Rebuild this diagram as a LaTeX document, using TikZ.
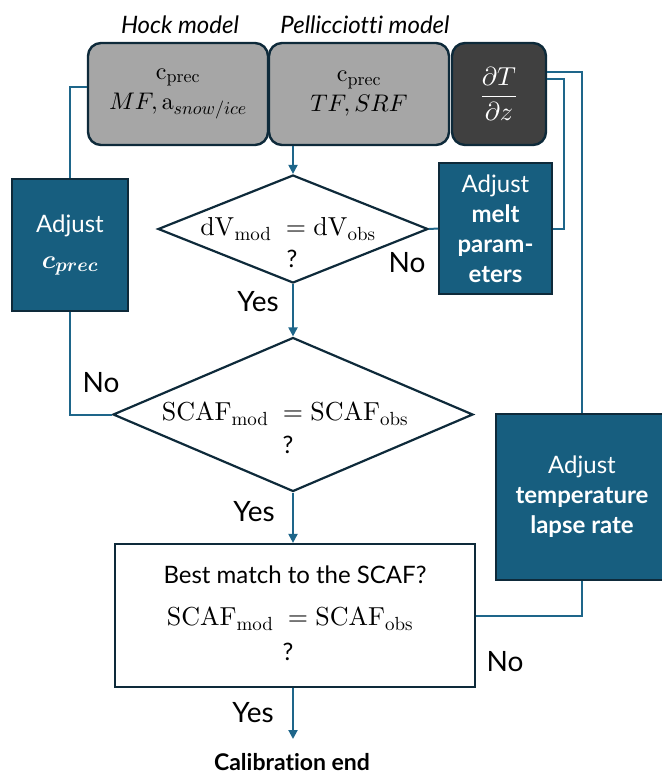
\documentclass[tikz,border=0pt]{standalone}
\usepackage{amsmath}
\usepackage[no-math]{fontspec}
\setmainfont{Lato}[Ligatures=NoCommon]
\DeclareFontShape{OT1}{cmr}{m}{n}{<->cmr10}{}
\DeclareFontShape{OT1}{cmr}{bx}{n}{<->cmbx10}{}
\DeclareFontShape{OML}{cmm}{m}{it}{<->cmmi10}{}
\DeclareFontShape{OML}{cmm}{b}{it}{<->cmmib10}{}
\DeclareFontShape{OMS}{cmsy}{m}{n}{<->cmsy10}{}
\DeclareFontShape{OMS}{cmsy}{b}{n}{<->cmbsy10}{}
\DeclareFontShape{OMX}{cmex}{m}{n}{<->cmex10}{}
\DeclareMathSizes{24}{24}{18}{13}
\DeclareMathSizes{26}{26}{19}{14}
\usetikzlibrary{arrows.meta,shapes.geometric}
\definecolor{darkb}{RGB}{14,42,58}
\definecolor{linec}{RGB}{30,102,138}
\definecolor{bluef}{RGB}{23,94,127}
\definecolor{grayf}{RGB}{166,166,166}
\definecolor{darkg}{RGB}{64,64,64}
\tikzset{
  conn/.style={draw=linec, line width=2pt},
  arr/.style={conn, -{Triangle[length=9pt,width=9pt]}},
  graybox/.style={draw=darkb, line width=2.4pt, fill=grayf, rounded corners=13pt, inner sep=0pt, align=center, font=\fontsize{24}{30}\selectfont},
  bluebox/.style={draw=darkb, line width=2pt, fill=bluef, text=white, inner sep=0pt, align=center, font=\fontsize{24}{30}\selectfont},
  dia/.style={diamond, draw=darkb, line width=2.2pt, fill=white, inner sep=0pt},
  lab/.style={font=\fontsize{28}{32}\selectfont, inner sep=0pt},
  mtxt/.style={font=\fontsize{26}{30}\selectfont, inner sep=0pt},
  qtxt/.style={font=\fontsize{24}{28}\selectfont, inner sep=0pt},
  ttl/.style={font=\fontsize{24}{28}\selectfont\itshape, inner sep=0pt},
}
\begin{document}
\begin{tikzpicture}[x=1pt,y=-1pt]
\useasboundingbox (0,0) rectangle (661,776);

% top titles
\node[ttl] (thock) at (180,25) {Hock model};
\node[ttl] (tpell) at (365,25) {Pellicciotti model};

% top boxes
\node[graybox, minimum width=180pt, minimum height=102pt] (hock) at (178,94)
  {$\mathrm{c}_{\mathrm{prec}}$\\ $MF,\mathrm{a}_{snow/ice}$};
\node[graybox, minimum width=180pt, minimum height=102pt] (pell) at (359,94)
  {$\mathrm{c}_{\mathrm{prec}}$\\ $TF,SRF$};
\node[graybox, fill=darkg, text=white, minimum width=94pt, minimum height=102pt, font=\fontsize{26}{30}\selectfont] (lapse) at (499,94)
  {$\dfrac{\partial T}{\partial z}$};

% diamonds
\node[dia, minimum width=270pt, minimum height=108pt] (d1) at (293,229) {};
\node[mtxt] (d1t) at (288,229) {$\mathrm{dV}_{\mathrm{mod}}\;=\mathrm{dV}_{\mathrm{obs}}$};
\node[qtxt] (d1q) at (292,259) {?};

\node[dia, minimum width=360pt, minimum height=154pt] (d2) at (293,414.5) {};
\node[mtxt] (d2t) at (285,414) {$\mathrm{SCAF}_{\mathrm{mod}}\;=\mathrm{SCAF}_{\mathrm{obs}}$};
\node[qtxt] (d2q) at (288,445) {?};

% best match box
\node[draw=darkb, line width=2.2pt, fill=white, minimum width=360pt, minimum height=143pt, inner sep=0pt] (best) at (295,615.5) {};
\node[font=\fontsize{24}{28}\selectfont, inner sep=0pt] (bestt) at (295,575) {Best match to the SCAF?};
\node[mtxt] (bestm) at (290,619) {$\mathrm{SCAF}_{\mathrm{mod}}\;=\mathrm{SCAF}_{\mathrm{obs}}$};
\node[qtxt] (bestq) at (288,652) {?};

% blue boxes
\node[bluebox, minimum width=116pt, minimum height=132pt] (adjc) at (70,245)
  {Adjust\\[6pt] {\fontsize{26}{30}\selectfont\boldmath$c_{prec}$}};
\node[bluebox, minimum width=113pt, minimum height=131pt] (melt) at (495.5,228.5)
  {Adjust\\ \textbf{melt}\\ \textbf{param-}\\ \textbf{eters}};
\node[bluebox, minimum width=172pt, minimum height=166pt] (temp) at (582,497)
  {Adjust\\ \textbf{temperature}\\ \textbf{lapse rate}};

% end
\node[font=\fontsize{23}{25}\selectfont\bfseries, inner sep=0pt] (calib) at (292,762) {Calibration end};
\coordinate (endpt) at (293,739);

% labels
\node[lab] (yes1) at (258,302) {Yes};
\node[lab] (no1) at (407,263) {No};
\node[lab] (no2) at (101,383) {No};
\node[lab] (yes2) at (254,512) {Yes};
\node[lab] (no3) at (505,662) {No};
\node[lab] (yes3) at (253,713) {Yes};

% connectors
\draw[arr] (d1.north |- pell.south) -- (d1.north);
\draw[arr] (d1.south) -- (d2.north);
\draw[arr] (d2.south) -- (d2.south |- best.north);
\draw[arr] (d2.south |- best.south) -- (endpt);

\draw[conn] ([yshift=7pt]hock.west) -| (adjc.north);
\draw[conn] (adjc.south) |- (d2.west);

\draw[conn] (d1.east) -- (melt.west);
\draw[conn] (melt.east) -- ([xshift=11pt]melt.east) |- ([yshift=15pt]lapse.east);

\draw[conn] ([yshift=22pt]lapse.east) -| (temp.north);
\draw[conn] (temp.south) |- (best.east);
\end{tikzpicture}
\end{document}
